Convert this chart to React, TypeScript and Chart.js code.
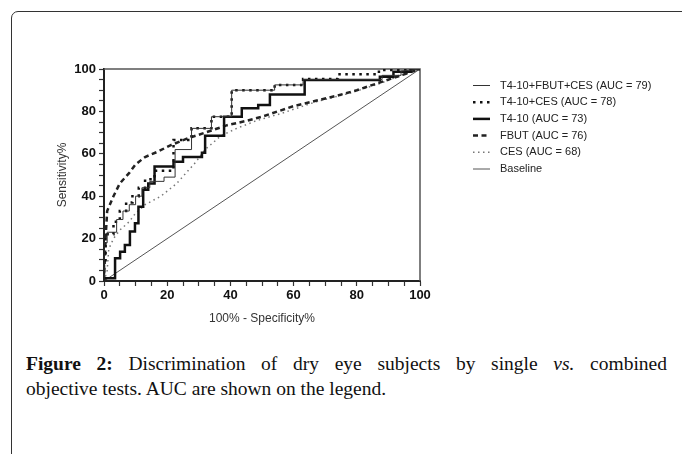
import React, { useEffect, useRef } from "react";
import { Chart, registerables } from "chart.js";

Chart.register(...registerables);

// ---- data ----
const seriesLabels = [
  "T4-10+FBUT+CES (AUC = 79)",
  "T4-10+CES (AUC = 78)",
  "T4-10 (AUC = 73)",
  "FBUT (AUC = 76)",
  "CES (AUC = 68)",
  "Baseline",
];

const axisTicks = [0, 20, 40, 60, 80, 100];

// T4-10+FBUT+CES (thin solid)
const comboAllX = [0, 0, 1, 1, 4, 4, 6, 6, 8, 8, 10, 10, 12, 12, 14.5, 14.5, 19, 19, 22.5, 22.5, 27.7, 27.7, 34, 34, 40.4, 40.4, 54, 54, 63, 63, 88, 88, 94, 94, 100];
const comboAllY = [0, 18, 18, 23, 23, 29, 29, 33, 33, 36, 36, 40, 40, 44, 44, 47, 47, 49, 49, 62, 62, 72, 72, 77.5, 77.5, 90, 90, 92.5, 92.5, 95, 95, 97, 97, 99, 100];

// T4-10+CES (heavy dots)
const comboCesX = [0, 0, 0.5, 0.5, 3, 3, 5, 5, 7, 7, 9, 9, 11, 11, 13, 13, 16, 16, 22, 22, 27.7, 27.7, 34, 34, 40.4, 40.4, 54, 54, 63, 63, 74, 74, 87, 87, 97, 97, 100];
const comboCesY = [0, 8, 8, 22, 22, 28, 28, 33, 33, 37, 37, 40, 40, 44, 44, 48, 48, 52, 52, 66.5, 66.5, 72, 72, 77.5, 77.5, 90, 90, 92.5, 92.5, 95.3, 95.3, 97.5, 97.5, 99.5, 99.5, 100, 100];

// T4-10 (thick solid)
const t410X = [0, 0, 3.5, 3.5, 5.1, 5.1, 6.6, 6.6, 8.2, 8.2, 9.8, 9.8, 10.9, 10.9, 12.4, 12.4, 14, 14, 16, 16, 22, 22, 25, 25, 31, 31, 32, 32, 38, 38, 43.6, 43.6, 48.8, 48.8, 52.5, 52.5, 63.5, 63.5, 87.3, 87.3, 91.6, 91.6, 97, 97, 100];
const t410Y = [0, 1.3, 1.3, 10.7, 10.7, 13.8, 13.8, 17, 17, 23.3, 23.3, 27.2, 27.2, 35, 35, 43, 43, 46, 46, 54, 54, 56.3, 56.3, 58.5, 58.5, 60.5, 60.5, 68.5, 68.5, 77.5, 77.5, 81.5, 81.5, 83, 83, 88, 88, 94.8, 94.8, 96.4, 96.4, 98.7, 98.7, 100, 100];

// FBUT (dashed)
const fbutX = [0, 0.5, 1, 3, 5, 8, 10, 13, 17, 21, 26, 30, 34, 39, 45, 50, 55, 60, 67, 74, 80, 87, 94, 100];
const fbutY = [0, 20, 33, 40, 46, 51, 55, 58.5, 61, 64, 67, 69, 71, 73.5, 75.5, 77.5, 80, 82.5, 85, 87.5, 90, 93.5, 97, 100];

// CES (light dotted)
const cesX = [0, 1, 1.5, 3, 5, 8, 10, 13, 18, 23, 26, 29, 32, 37, 42, 48, 56, 67, 78, 87, 94, 100];
const cesY = [0, 5, 15, 20, 24, 28, 32, 36, 40, 46, 51, 56, 62, 68.5, 72, 75.5, 79, 84.5, 88.7, 93, 97, 100];

// Baseline
const baseX = [0, 100];
const baseY = [0, 100];

const seriesX = [comboAllX, comboCesX, t410X, fbutX, cesX, baseX];
const seriesY = [comboAllY, comboCesY, t410Y, fbutY, cesY, baseY];

// ---- styles ----
const styles = [
  { color: "#333", width: 1, dash: [] as number[] },
  { color: "#111", width: 2.5, dash: [2.5, 4.5] },
  { color: "#111", width: 2.5, dash: [] as number[] },
  { color: "#222", width: 2.5, dash: [5, 3.5] },
  { color: "#777", width: 1.5, dash: [1.5, 3.5] },
  { color: "#555", width: 1, dash: [] as number[] },
];

const legendPlugin = {
  id: "customLegend",
  afterDraw(chart: any) {
    const ctx = chart.ctx;
    ctx.save();
    ctx.font = '11px "Liberation Sans", Arial, sans-serif';
    ctx.fillStyle = "#222";
    ctx.textBaseline = "middle";
    ctx.textAlign = "left";
    seriesLabels.forEach((label, i) => {
      const y = 85.5 + i * 16.7;
      const s = styles[i];
      ctx.beginPath();
      ctx.strokeStyle = s.color;
      ctx.lineWidth = s.width;
      ctx.setLineDash(s.dash);
      ctx.moveTo(473, y);
      ctx.lineTo(490, y);
      ctx.stroke();
      ctx.setLineDash([]);
      ctx.fillText(label, 500, y);
    });
    ctx.restore();
  },
};

const boxPlugin = {
  id: "plotBox",
  beforeDatasetsDraw(chart: any) {
    const { ctx, chartArea: a } = chart;
    ctx.save();
    ctx.strokeStyle = "#555";
    ctx.lineWidth = 1.5;
    ctx.beginPath();
    ctx.moveTo(a.left, a.top);
    ctx.lineTo(a.right, a.top);
    ctx.lineTo(a.right, a.bottom);
    ctx.stroke();
    ctx.restore();
  },
};

function ChartBox() {
  const ref = useRef<HTMLCanvasElement | null>(null);
  useEffect(() => {
    if (!ref.current) return;
    const datasets = seriesLabels.map((label, i) => ({
      label,
      data: seriesX[i].map((x, k) => ({ x, y: seriesY[i][k] })),
      borderColor: styles[i].color,
      borderWidth: styles[i].width,
      borderDash: styles[i].dash,
      pointRadius: 0,
      fill: false,
      tension: 0,
      borderCapStyle: "butt" as const,
    }));
    const tickFont = { family: '"Liberation Sans", Arial, sans-serif', size: 13, weight: "bold" as const };
    const titleFont = { family: '"Liberation Sans", Arial, sans-serif', size: 12 };
    const labelCb = (v: any) => (axisTicks.includes(Number(v)) ? String(v) : "");
    const chart = new Chart(ref.current, {
      type: "line",
      data: { datasets },
      plugins: [boxPlugin, legendPlugin],
      options: {
        animation: false,
        responsive: false,
        devicePixelRatio: 1,
        layout: { padding: { left: 48, top: 69, right: 262, bottom: 0 } },
        plugins: { legend: { display: false }, tooltip: { enabled: false } },
        scales: {
          x: {
            type: "linear",
            min: 0,
            max: 100,
            afterFit: (s: any) => {
              s.height = 59;
            },
            ticks: { stepSize: 5, autoSkip: false, maxRotation: 0, color: "#111", font: tickFont, padding: 2, callback: labelCb },
            grid: { display: true, drawOnChartArea: false, drawTicks: true, tickLength: 5, tickColor: "#333", tickWidth: 1.2 },
            border: { display: true, color: "#222", width: 2 },
            title: { display: true, text: "100% - Specificity%", color: "#333", font: titleFont, padding: { top: 0, bottom: 14 } },
          },
          y: {
            type: "linear",
            min: 0,
            max: 100,
            afterFit: (s: any) => {
              s.width = 56;
            },
            ticks: { stepSize: 5, autoSkip: false, color: "#111", font: tickFont, padding: 3, callback: labelCb },
            grid: { display: true, drawOnChartArea: false, drawTicks: true, tickLength: 5, tickColor: "#333", tickWidth: 1.2 },
            border: { display: true, color: "#222", width: 2 },
            title: { display: true, text: "Sensitivity%", color: "#333", font: titleFont, padding: { top: 7, bottom: 0 } },
          },
        },
      },
    });
    return () => chart.destroy();
  }, []);
  return <canvas ref={ref} width={682} height={340} style={{ position: "absolute", left: 0, top: 0, width: 682, height: 340 }} />;
}

export default function App() {
  return (
    <div style={{ position: "absolute", left: 0, top: 0, width: 682, height: 454, overflow: "hidden", background: "#fff" }}>
      <div
        style={{
          position: "absolute",
          left: 11,
          top: 11,
          width: 800,
          height: 600,
          border: "1.5px solid #333",
          borderTopLeftRadius: 7,
        }}
      />
      <ChartBox />
      <div
        style={{
          position: "absolute",
          left: 26,
          top: 351,
          width: 641,
          fontFamily: '"Liberation Serif", "Times New Roman", serif',
          fontSize: 19.5,
          lineHeight: "25px",
          color: "#111",
        }}
      >
        <div style={{ textAlign: "justify", textAlignLast: "justify" as any }}>
          <b>Figure 2:</b> Discrimination of dry eye subjects by single <i>vs.</i> combined
        </div>
        <div>objective tests. AUC are shown on the legend.</div>
      </div>
    </div>
  );
}
